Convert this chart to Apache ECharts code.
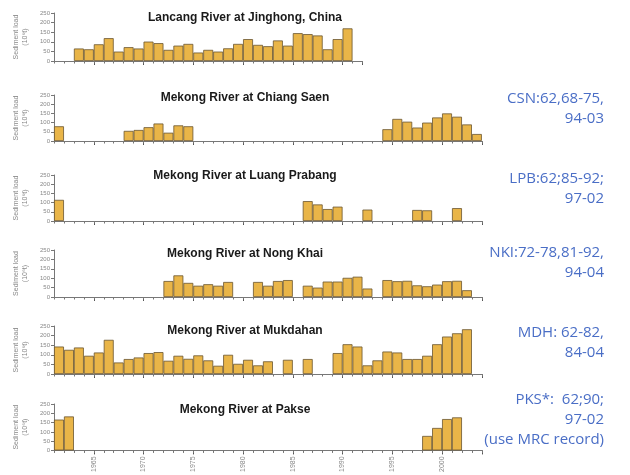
<!DOCTYPE html>
<html><head><meta charset="utf-8">
<script src="https://cdn.jsdelivr.net/npm/echarts@6/dist/echarts.min.js"></script>
<style>html,body{margin:0;padding:0;background:#fff}#c{width:630px;height:475px}</style>
</head><body><div id="c"></div><script>
// Years 1961..2003 (category bins; ticks at bin edges)
const firstYear = 1961;
const years = [];
for (let y = 1961; y <= 2003; y++) years.push(String(y));
const yTicks = [0, 50, 100, 150, 200, 250];

// Sediment load (10^6 t); null = no record
const lancang = [null,null,65,61,87,119,49,72,65,101,93,58,80,89,44,58,49,66,89,114,84,77,107,80,145,140,133,61,114,170,null];
const chiangSaen = [80,null,null,null,null,null,null,55,60,75,95,45,85,80,
  null,null,null,null,null,null,null,null,null,null,null,null,null,null,null,null,null,null,null,
  64,120,105,73,100,128,150,132,90,38];
const luangPrabang = [115,null,null,null,null,null,null,null,null,null,null,null,null,null,null,null,null,null,null,null,null,null,null,null,null,
  108,90,65,78,null,null,62,null,null,null,null,60,58,null,null,70,null,null];
const nongKhai = [null,null,null,null,null,null,null,null,null,null,null,
  85,115,75,60,68,60,80,null,null,80,60,85,90,null,60,50,82,82,102,108,45,null,
  90,84,86,62,57,66,84,86,36,null];
const mukdahan = [143,126,138,95,112,178,60,78,86,109,114,69,95,79,97,71,43,100,53,74,45,66,
  null,74,null,78,null,null,109,155,143,45,71,117,112,78,78,95,155,195,212,233,null];
const pakse = [166,183,null,null,null,null,null,null,null,null,null,null,null,null,null,null,null,null,null,null,
  null,null,null,null,null,null,null,null,null,null,null,null,null,null,null,null,null,78,121,169,178,null,null];

const titles = ['Lancang River at Jinghong, China','Mekong River at Chiang Saen','Mekong River at Luang Prabang',
  'Mekong River at Nong Khai','Mekong River at Mukdahan','Mekong River at Pakse'];
const notes = [null, ['CSN:62,68-75,','94-03'], ['LPB:62;85-92;','97-02'], ['NKI:72-78,81-92,','94-04'],
  ['MDH: 62-82,','84-04'], ['PKS*:  62;90;','97-02','(use MRC record)']];
const seriesData = [lancang, chiangSaen, luangPrabang, nongKhai, mukdahan, pakse];

const panels = [
  {top:13, h:48, nYears:31, titleY:18, noteY:0},
  {top:95, h:46, nYears:43, titleY:98, noteY:89},
  {top:175, h:46, nYears:43, titleY:176, noteY:169},
  {top:250, h:47, nYears:43, titleY:254, noteY:243},
  {top:326, h:48, nYears:43, titleY:331, noteY:323},
  {top:404, h:49, nYears:43, titleY:410, noteY:390}
];
const yearPx = 9.95;
const left = 54;
const barColor = '#E9B548', barBorder = '#6a5530', axisColor = '#777', labelColor = '#888';

const grid = [], xAxis = [], yAxis = [], series = [], graphic = [];
panels.forEach((p, i) => {
  grid.push({left: left, top: p.top, width: p.nYears * yearPx, height: p.h});
  const cats = years.slice(0, p.nYears);
  const last = i === panels.length - 1;
  xAxis.push({type:'category', gridIndex:i, position:'bottom', data:cats, boundaryGap:true,
    axisLine:{show:false}, axisLabel:{show:false},
    axisTick:{show:true, length:4, interval:(idx, val) => (+val) % 5 === 0, lineStyle:{color:'#555', width:1}}});
  xAxis.push({type:'value', gridIndex:i, position:'bottom', min:firstYear, max:firstYear + p.nYears, interval:1,
    axisLine:{show:true, onZero:false, lineStyle:{color:axisColor, width:1}},
    axisTick:{show:true, length:2.5, lineStyle:{color:axisColor}},
    splitLine:{show:false},
    axisLabel:{show:last, rotate:90, fontSize:7, color:labelColor, fontFamily:'Liberation Sans', margin:6,
      formatter:v => (v % 5 === 0 ? String(v) : '')}});
  yAxis.push({type:'value', gridIndex:i, min:yTicks[0], max:yTicks[yTicks.length-1], interval:50,
    axisLine:{show:true, lineStyle:{color:axisColor}}, axisTick:{show:true, length:3, lineStyle:{color:axisColor}},
    splitLine:{show:false},
    axisLabel:{fontSize:6, color:labelColor, fontFamily:'Liberation Sans', margin:4},
    name:'Sediment load\n(10\u2076t)', nameLocation:'middle', nameRotate:90, nameGap:24,
    nameTextStyle:{fontSize:7, color:labelColor, fontFamily:'Liberation Sans', lineHeight:9}});
  series.push({type:'bar', xAxisIndex:2*i, yAxisIndex:i, data:seriesData[i].map(v => v),
    barWidth:'100%', barGap:'0%', barCategoryGap:'0%',
    itemStyle:{color:barColor, borderColor:barBorder, borderWidth:0.8}, silent:true});
  graphic.push({type:'text', x: 245, y: p.titleY, style:{text:titles[i], fill:'#1a1a1a',
    font:'bold 12px "Liberation Sans"', textAlign:'center', textVerticalAlign:'middle'}});
  if (notes[i]) {
    graphic.push({type:'text', right: 26, top: p.noteY, style:{text:notes[i].join('\n'), fill:'#4a6ec6',
      font:'15px "Open Sans"', textAlign:'right', lineHeight:20}});
  }
});

const chart = echarts.init(document.getElementById('c'), null, {renderer:'canvas'});
chart.setOption({animation:false, backgroundColor:'#fff', grid, xAxis, yAxis, series, graphic});
</script></body></html>
